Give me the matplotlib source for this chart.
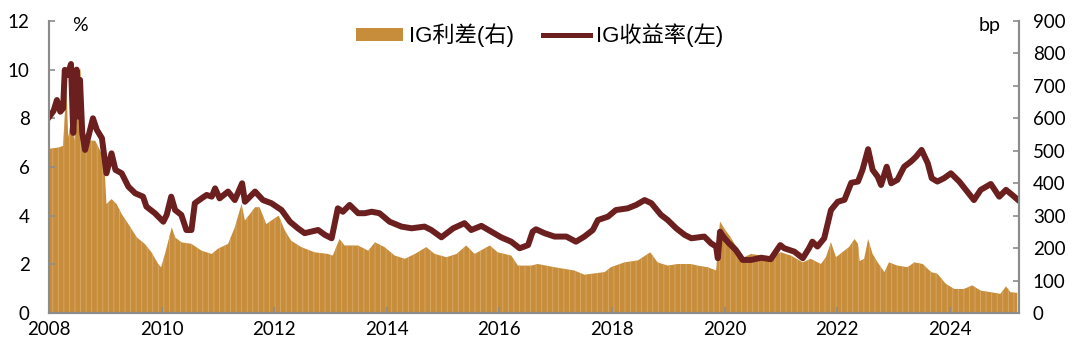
import matplotlib
matplotlib.use('Agg')
import matplotlib.pyplot as plt
import numpy as np
from matplotlib.patches import Patch
from matplotlib.lines import Line2D

plt.rcParams['font.family'] = ['Lato', 'Noto Sans CJK SC', 'DejaVu Sans']
plt.rcParams['hatch.linewidth'] = 0.6

# ── IG 收益率 (左轴, %) ──
yield_t = [2008.00, 2008.08, 2008.14, 2008.20, 2008.25, 2008.28, 2008.33, 2008.39, 2008.43, 2008.49,
           2008.52, 2008.55, 2008.59, 2008.64, 2008.70, 2008.78, 2008.85, 2008.94, 2009.02, 2009.11,
           2009.18, 2009.29, 2009.41, 2009.53, 2009.67, 2009.73, 2009.88, 2010.03, 2010.09, 2010.17,
           2010.24, 2010.35, 2010.44, 2010.53, 2010.59, 2010.71, 2010.80, 2010.89, 2010.95, 2011.03,
           2011.18, 2011.30, 2011.43, 2011.48, 2011.66, 2011.80, 2011.95, 2012.13, 2012.28, 2012.42,
           2012.54, 2012.78, 2012.90, 2013.02, 2013.13, 2013.22, 2013.34, 2013.49, 2013.61, 2013.73,
           2013.87, 2014.05, 2014.26, 2014.44, 2014.67, 2014.79, 2014.97, 2015.18, 2015.38, 2015.50,
           2015.68, 2015.86, 2016.03, 2016.21, 2016.36, 2016.51, 2016.59, 2016.65, 2016.80, 2016.98,
           2017.19, 2017.36, 2017.51, 2017.66, 2017.75, 2017.93, 2018.07, 2018.28, 2018.43, 2018.58,
           2018.70, 2018.87, 2018.99, 2019.14, 2019.29, 2019.41, 2019.64, 2019.76, 2019.85, 2019.88,
           2019.92, 2020.00, 2020.08, 2020.20, 2020.32, 2020.47, 2020.65, 2020.82, 2020.99, 2021.06,
           2021.24, 2021.39, 2021.50, 2021.56, 2021.65, 2021.77, 2021.89, 2022.01, 2022.13, 2022.25,
           2022.37, 2022.45, 2022.55, 2022.63, 2022.72, 2022.78, 2022.88, 2022.96, 2023.07, 2023.19,
           2023.31, 2023.40, 2023.50, 2023.61, 2023.68, 2023.78, 2023.90, 2024.02, 2024.17, 2024.31,
           2024.43, 2024.55, 2024.73, 2024.88, 2025.00, 2025.11, 2025.20]
yield_v = [8.05, 8.30, 8.75, 8.27, 8.41, 9.99, 9.78, 10.23, 7.40, 10.00,
           8.07, 9.58, 7.40, 6.70, 7.25, 8.00, 7.52, 7.18, 5.74, 6.56,
           5.88, 5.74, 5.19, 4.92, 4.78, 4.37, 4.10, 3.75, 4.03, 4.78,
           4.23, 4.03, 3.41, 3.41, 4.51, 4.71, 4.85, 4.78, 5.12, 4.71,
           4.99, 4.64, 5.33, 4.57, 4.99, 4.64, 4.51, 4.23, 3.75, 3.48,
           3.28, 3.41, 3.21, 3.07, 4.30, 4.16, 4.44, 4.10, 4.10, 4.16,
           4.10, 3.75, 3.55, 3.48, 3.55, 3.41, 3.11, 3.48, 3.69, 3.41,
           3.58, 3.34, 3.11, 2.93, 2.66, 2.79, 3.34, 3.44, 3.28, 3.14,
           3.14, 2.93, 3.14, 3.41, 3.82, 3.96, 4.23, 4.30, 4.44, 4.64,
           4.51, 4.03, 3.82, 3.48, 3.21, 3.07, 3.14, 2.86, 2.73, 2.25,
           3.34, 3.07, 2.86, 2.59, 2.18, 2.18, 2.27, 2.21, 2.79, 2.66,
           2.52, 2.25, 2.66, 2.93, 2.73, 3.07, 4.23, 4.57, 4.65, 5.35,
           5.40, 5.88, 6.73, 5.88, 5.60, 5.26, 6.01, 5.33, 5.47, 6.01,
           6.22, 6.42, 6.70, 6.15, 5.54, 5.40, 5.54, 5.74, 5.40, 4.99,
           4.64, 5.06, 5.30, 4.78, 5.06, 4.85, 4.67]

# ── IG 利差 (右轴, bp) ──
spread_t = [2008.00, 2008.17, 2008.25, 2008.31, 2008.34, 2008.40, 2008.45, 2008.52, 2008.56, 2008.61,
            2008.67, 2008.73, 2008.82, 2008.91, 2008.98, 2009.02, 2009.11, 2009.20, 2009.29, 2009.41,
            2009.56, 2009.70, 2009.82, 2009.94, 2009.99, 2010.06, 2010.18, 2010.24, 2010.35, 2010.53,
            2010.71, 2010.89, 2011.00, 2011.18, 2011.30, 2011.42, 2011.48, 2011.66, 2011.74, 2011.86,
            2011.95, 2012.08, 2012.19, 2012.30, 2012.48, 2012.72, 2012.95, 2013.04, 2013.16, 2013.25,
            2013.49, 2013.67, 2013.79, 2013.96, 2014.14, 2014.32, 2014.50, 2014.70, 2014.85, 2015.06,
            2015.24, 2015.41, 2015.56, 2015.83, 2015.97, 2016.21, 2016.33, 2016.57, 2016.68, 2016.98,
            2017.33, 2017.51, 2017.69, 2017.87, 2017.98, 2018.22, 2018.46, 2018.68, 2018.81, 2018.99,
            2019.17, 2019.40, 2019.52, 2019.70, 2019.85, 2019.92, 2020.00, 2020.11, 2020.23, 2020.35,
            2020.47, 2020.65, 2020.82, 2021.00, 2021.18, 2021.39, 2021.53, 2021.71, 2021.80, 2021.89,
            2021.98, 2022.09, 2022.21, 2022.31, 2022.37, 2022.40, 2022.48, 2022.55, 2022.63, 2022.72,
            2022.84, 2022.92, 2023.07, 2023.25, 2023.37, 2023.52, 2023.67, 2023.78, 2023.93, 2024.08,
            2024.25, 2024.40, 2024.55, 2024.73, 2024.90, 2025.00, 2025.08, 2025.20]
spread_v = [506, 510, 515, 705, 541, 602, 531, 674, 756, 551,
            520, 531, 531, 500, 469, 336, 351, 336, 305, 274,
            233, 213, 187, 151, 141, 182, 264, 233, 218, 213,
            192, 182, 198, 213, 264, 336, 285, 326, 326, 274,
            285, 300, 254, 223, 203, 187, 182, 177, 228, 208,
            208, 192, 218, 203, 177, 167, 182, 203, 182, 172,
            182, 208, 182, 208, 187, 177, 146, 146, 151, 141,
            131, 118, 122, 126, 141, 156, 162, 187, 156, 146,
            151, 151, 146, 141, 131, 282, 259, 233, 198, 172,
            182, 177, 172, 187, 177, 156, 167, 151, 172, 218,
            172, 187, 203, 228, 213, 160, 167, 228, 182, 156,
            126, 156, 146, 141, 156, 151, 126, 121, 90, 74,
            74, 85, 69, 64, 59, 82, 64, 62]

years = np.arange(2008, 2025, 2)

fig = plt.figure(figsize=(10.8, 3.61), dpi=100, facecolor='white')
ax = fig.add_axes([0.0454, 0.133, 0.8981, 0.809])
ax2 = ax.twinx()

gold = '#C78D3B'
maroon = '#6B1F1F'
grey = '#8C8C8C'

ax2.fill_between(spread_t, spread_v, 0, facecolor=gold, edgecolor='#D8AA6A',
                 hatch='|||', linewidth=0)
ax.plot(yield_t, yield_v, color=maroon, lw=4.3, solid_joinstyle='round')

# 折线画在面积图之上
ax.set_zorder(ax2.get_zorder() + 1)
ax.patch.set_visible(False)

ax.set_xlim(2008, 2025.23)
ax.set_ylim(0, 12)
ax2.set_ylim(0, 900)
ax.set_yticks(range(0, 13, 2))
ax2.set_yticks(range(0, 901, 100))
ax.set_xticks(years)
ax.set_xticklabels([str(y) for y in years])

for a in (ax, ax2):
    a.spines['top'].set_visible(False)
    for s in ('left', 'right', 'bottom'):
        a.spines[s].set_color(grey)
        a.spines[s].set_linewidth(1.5)
    a.tick_params(direction='in', length=4, width=1.2, color=grey, labelsize=13.5, pad=6)
ax.tick_params(axis='y', pad=14)
ax2.tick_params(axis='y', pad=10)

ax.text(0.032, 0.983, '%', transform=ax.transAxes, fontsize=14, va='center', ha='center')
ax.text(0.97, 0.983, 'bp', transform=ax.transAxes, fontsize=14, va='center', ha='center')

handles = [Patch(facecolor=gold, edgecolor='none'),
           Line2D([0], [0], color=maroon, lw=3.6)]
ax.legend(handles, ['IG利差(右)', 'IG收益率(左)'], loc='center', bbox_to_anchor=(0.506, 0.95),
          ncol=2, frameon=False, prop={'family': ['Liberation Sans', 'Noto Sans CJK SC'], 'size': 16},
          handlelength=2.1, handleheight=0.5, columnspacing=1.3, handletextpad=0.3)

fig.savefig('out.png', dpi=100, facecolor='white')
